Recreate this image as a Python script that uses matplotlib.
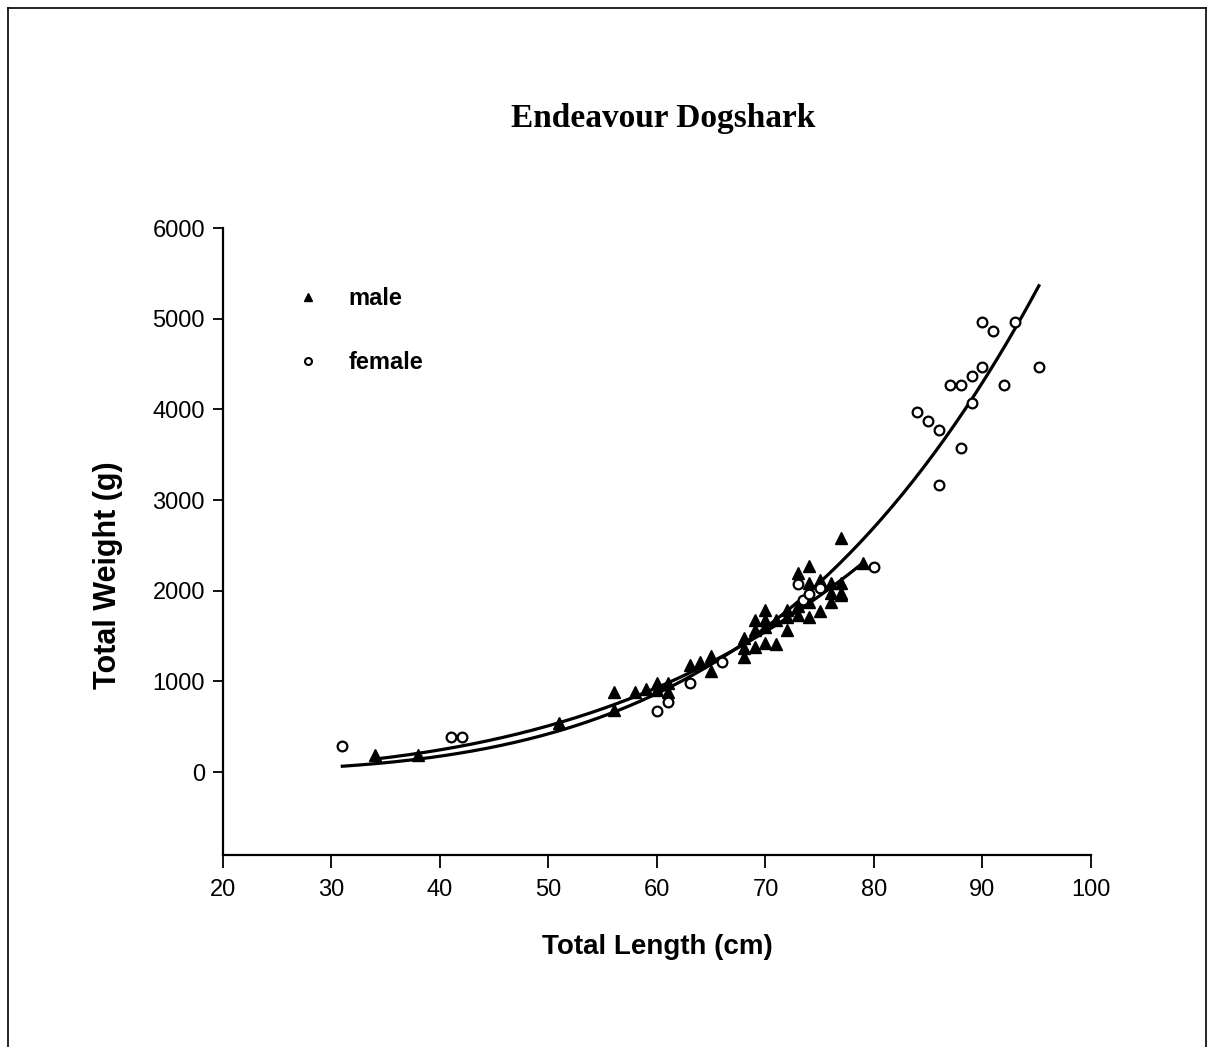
import numpy as np
import matplotlib
matplotlib.use("Agg")
import matplotlib.pyplot as plt
from matplotlib.lines import Line2D

# male readings (total length cm, total weight g)
male_len = [34, 38, 51, 56, 56, 58, 59, 60, 60, 61, 61, 63, 64, 65, 65,
            68, 68, 68, 69, 69, 69, 70, 70, 70, 70, 71, 71, 72, 72, 72,
            73, 73, 73, 74, 74, 74, 74, 75, 75, 76, 76, 76, 77, 77, 77, 77, 79]
male_wt = [190, 190, 540, 885, 684, 885, 915, 980, 905, 980, 880, 1180, 1215, 1280, 1115,
           1475, 1365, 1270, 1675, 1565, 1380, 1785, 1675, 1600, 1420, 1675, 1410, 1785, 1710, 1565,
           1830, 1730, 2195, 2272, 2085, 1875, 1710, 2118, 1775, 2085, 1975, 1875, 2085, 1975, 1950, 2580, 2305]

# female readings
female_len = [31, 41, 42, 60, 61, 63, 66, 73, 73.5, 74, 75, 80,
              84, 85, 86, 86, 87, 88, 88, 89, 89, 90, 90, 91, 92, 93, 95.2]
female_wt = [287, 386, 386, 673, 772, 980, 1215, 2075, 1900, 1965, 2030, 2262,
             3970, 3871, 3772, 3165, 4268, 4268, 3573, 4368, 4070, 4963, 4467, 4865, 4268, 4963, 4467]

# power-law trend lines W = a * L^b (coefficients)
male_a, male_b = 1.262e-3, 3.3
female_a, female_b = 8.2e-5, 3.95

x_ticks = [20, 30, 40, 50, 60, 70, 80, 90, 100]
y_ticks = [0, 1000, 2000, 3000, 4000, 5000, 6000]

plt.rcParams['font.family'] = ['Liberation Sans', 'DejaVu Sans']

fig = plt.figure(figsize=(12.13, 10.47), dpi=100)
ax = fig.add_axes([0.1838, 0.1834, 0.7156, 0.5988])

lw_curve = 2.3
ml = np.linspace(min(male_len), max(male_len), 200)
fl = np.linspace(min(female_len), max(female_len), 200)
ax.plot(fl, female_a * fl ** female_b, color='black', lw=lw_curve, zorder=2)
ax.plot(ml, male_a * ml ** male_b, color='black', lw=lw_curve, zorder=2)

ax.plot(male_len, male_wt, linestyle='none', marker='^', ms=8, color='black', zorder=3)
ax.plot(female_len, female_wt, linestyle='none', marker='o', ms=7, mfc='white',
        mec='black', mew=1.6, zorder=3)

ax.set_xlim(20, 100)
ax.set_ylim(-915, 6000)
ax.set_xticks(x_ticks)
ax.set_yticks(y_ticks)
ax.tick_params(axis='both', labelsize=17, width=1.3, direction='out')
ax.tick_params(axis='x', length=9, pad=8)
ax.tick_params(axis='y', length=7, pad=6)
for s in ['top', 'right']:
    ax.spines[s].set_visible(False)
for s in ['left', 'bottom']:
    ax.spines[s].set_linewidth(1.6)

fig.text(0.5466, 0.887, 'Endeavour Dogshark', ha='center', va='center',
         fontsize=24, fontweight='bold', family='Liberation Serif')
fig.text(0.542, 0.0955, 'Total Length (cm)', ha='center', va='center',
         fontsize=20, fontweight='bold')
fig.text(0.089, 0.451, 'Total Weight (g)', ha='center', va='center',
         fontsize=22, fontweight='bold', rotation=90)

handles = [Line2D([], [], linestyle='none', marker='^', ms=6, color='black'),
           Line2D([], [], linestyle='none', marker='o', ms=5, mfc='white', mec='black', mew=1.5)]
ax.legend(handles, ['male', 'female'], loc='upper left', bbox_to_anchor=(0.06, 0.94),
          frameon=False, prop={'size': 17, 'weight': 'bold'}, labelspacing=1.75,
          handletextpad=1.2, handlelength=1.0)

# page border
for xs, ys in [([0.007, 0.007], [0.0, 0.992]), ([0.007, 0.994], [0.992, 0.992]),
               ([0.994, 0.994], [0.992, 0.0])]:
    fig.add_artist(Line2D(xs, ys, color='black', lw=1.2, transform=fig.transFigure))

fig.savefig('out.png', dpi=100, facecolor='white')
